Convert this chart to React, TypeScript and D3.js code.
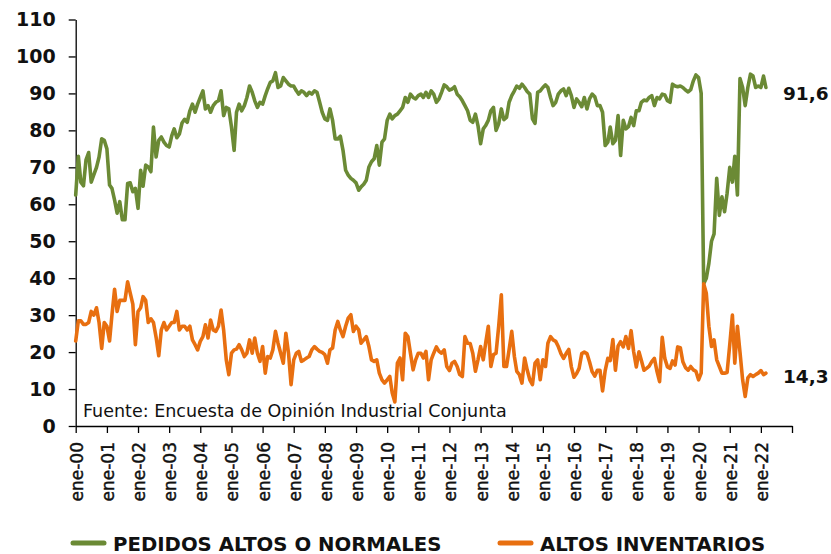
import React, { useEffect, useRef } from "react";
import * as d3 from "d3";

// monthly series, ene-00 .. mar-22 (percent of firms)
const pedidos = [
  62.5, 73, 66, 65, 72, 74, 66, 68, 70, 72.8, 77.7, 77.3, 75, 65.2, 64.3, 61.1, 57.6, 60.7, 55.8, 55.8,
  65.6, 65.8, 63.4, 64.3, 58.9, 69.2, 64.9, 70.6, 70.1, 68.8, 80.9, 72.8, 77.3, 78.2, 76.8, 75.9, 75.5, 78.6,
  80.4, 78, 79, 82, 83,
  82.2, 85.3, 87.1, 84.9, 87.1, 88.9, 90.7, 85.8, 86.7, 84.9, 86.7, 87.6, 88, 90.7, 84, 86.2, 85.8, 80.9,
  74.6, 84.9, 87.1, 85.3, 86.7, 88.9, 92, 90.3, 88, 86.2, 87.6, 87.1, 89.4, 91.2, 93, 93.4, 95.6, 91.6, 92,
  94.3, 93.4, 92.5, 92, 92, 90.7, 89.8, 90.7,
  90.3, 89.4, 90.3, 89.8, 90.7, 90.3, 87.6, 84.9, 83.1, 82.7, 85.8, 82.7, 77.7, 77.7, 78.4, 74.6, 69.2, 67.9,
  67, 66.5, 65.8, 63.8, 64.7, 65.4, 66.5, 70.1, 71.5, 72.3, 75.9, 70.6, 76.8, 77.7, 82.7, 84.4, 83.1, 84,
  84.4, 85.3, 86.2, 88.9, 87.6, 89.8, 88.9, 88.5, 89.4, 89.8,
  88.9,
  90.3, 88.9, 90.7, 89.8, 87.6, 88.5, 90.3, 92.3, 91.8, 90.9, 91.2, 91.8, 89.8, 89.1, 88, 86.7, 85.3, 82.7,
  82.2, 84.4, 81.3, 76.4, 80.4, 81.3, 82.7, 85.3, 86.2, 80, 81.8, 85.8, 82.9, 83.5, 87.6, 89.4, 90.7, 92,
  91.4, 92.5, 91.6, 90.5, 89.8, 83.1, 81.9, 90.3, 90.7, 91.6,
  92.3, 91.6, 88.9, 86.7, 87.6, 89.8, 90.7, 91.2, 89.4, 91.4, 89.4, 86.2, 88.5, 87.6, 86.4, 88.9, 85.8, 88.5,
  89.8, 89.1, 86.7, 86.7, 84.9, 75.9, 76.8, 80.9, 76.4, 77.3, 84, 73.2, 82.7, 80.4, 81, 83.5, 81.3, 85.3,
  85.3, 87.6, 88.2, 88, 88.9, 89.4, 86.7, 88.9, 88.5, 89.8,
  89.6, 88, 87.6, 92.5, 92, 91.8, 92, 91.6, 90.9, 90.4,
  91, 93.4, 95, 94.3, 90, 38.5, 40, 44, 50, 52, 67, 57, 62, 58, 63, 70, 66, 73, 62.5, 94, 91.6, 86.7, 91.6,
  95.2, 94.7, 91.6, 92, 91.6, 94.7, 91.6,
];

const inventarios = [
  23, 28.5, 28.5, 27.5, 27.5, 28, 31, 30, 32, 28, 21, 28, 27, 23, 30, 37, 31, 34, 34, 34, 39, 36, 33, 22, 31,
  32, 35, 34, 28, 29, 28, 24, 19, 26, 28, 26, 27, 28, 28, 31, 26, 27, 27,
  26, 27, 23.3, 22, 20.6, 22.9, 24.2, 27.4, 23.8, 28.7, 26, 25.6, 27, 31.4, 26, 17.9, 13.9, 19.7, 20.6, 20.8,
  22, 20.6, 18.8, 19.7, 23.3, 19.7, 23.8, 19.7, 17.5, 21.5, 14.3, 18.8, 18.4, 20.6, 25.6, 22.4, 19.7, 17,
  25.1, 19.7, 11.2, 17.9, 19.7, 20.2, 17.5,
  17.9, 18.4, 18.8, 20.6, 21.5, 20.8, 20.2, 19.9, 19.3, 17, 20.6, 21.1, 26, 28.3, 26, 24.2, 27, 29.2, 30.1,
  25.6, 27, 26, 22.4, 23.3, 24.2, 21.5, 17.9, 17.5, 17.9, 14.3, 12.5, 11.6, 12.5, 13.4, 9, 6.5, 17, 18.4,
  12.5, 25.1, 24.2, 19.7, 15.2, 17.9, 19.7, 19.7,
  18.4,
  20.2, 12.5, 17.9, 19.7, 21.4, 20.2, 19.7, 20.6, 16.1, 15, 17, 17.5, 16.1, 13.9, 13.4, 24.2, 22.4, 22.3,
  19.7, 14.8, 17.9, 21.5, 17.9, 22.4, 27, 16.1, 19.3, 19.7, 27, 35.5, 16.1, 16.1, 20.6, 25.6, 18.8, 14.8,
  13.9, 11.6, 18.4, 15.2, 12.5, 11.2, 17, 17.9, 12.5, 17.9,
  16.1, 22.4, 24.2, 23.3, 22.9, 21.5,
  19.6, 18.3, 19.6, 20.7, 16, 13.2, 14.2, 15.6, 19.6, 20, 19.6, 17.4, 14.7, 13.5, 15.1, 15.1, 9.5, 15, 18.3,
  17.7, 23.4, 15.1, 21.6, 22.8, 21.4, 24.2, 21, 25.8, 20.1, 16, 20.1, 17.8, 15.1, 15.6, 16.2, 17.4, 18.3,
  14.7, 12, 24, 18.3, 16, 15.6, 17.6, 16.5, 21.4, 21.2, 17.4, 15.8, 15.1,
  16.1, 15.2, 14.8, 12.5, 14.3, 38.5, 35.9, 27, 21.5, 23.3, 17.9, 16.1, 14.3, 14.3, 14.5, 22, 30, 17, 27, 20,
  12.5, 8, 13, 13.9, 13.4, 13.9, 14.3, 15, 13.9, 14.3,
];

const yTicks = [0, 10, 20, 30, 40, 50, 60, 70, 80, 90, 100, 110];

const xTickLabels = [
  "ene-00", "ene-01", "ene-02", "ene-03", "ene-04", "ene-05", "ene-06", "ene-07", "ene-08", "ene-09",
  "ene-10", "ene-11", "ene-12", "ene-13", "ene-14", "ene-15", "ene-16", "ene-17", "ene-18", "ene-19",
  "ene-20", "ene-21", "ene-22", "",
];

const seriesNames = ["PEDIDOS ALTOS O NORMALES", "ALTOS INVENTARIOS"];
const endLabels = ["91,6", "14,3"];
const source = "Fuente: Encuesta de Opinión Industrial Conjunta";

const GREEN = "#6b8a35";
const ORANGE = "#e86f10";
const FONT = "'DejaVu Sans', sans-serif";

function App() {
  const svgRef = useRef<SVGSVGElement>(null);

  useEffect(() => {
    const svg = d3.select(svgRef.current);
    svg.selectAll("*").remove();

    const left = 75.7, right = 792, top = 19.5, bottom = 426;

    const start = new Date(2000, 0, 1);
    const dates = pedidos.map((_, i) => d3.timeMonth.offset(start, i));

    const xScale = d3.scaleTime()
      .domain([start, new Date(2023, 0, 1)])
      .range([left, right]);

    const yScale = d3.scaleLinear()
      .domain([0, 110])
      .range([bottom, top]);

    // y axis
    const yAxis = svg.append("g")
      .attr("transform", `translate(${left}, 0)`)
      .call(d3.axisLeft(yScale).tickValues(yTicks).tickSize(7).tickSizeOuter(0).tickPadding(13));
    yAxis.select(".domain").attr("stroke", "#000").attr("stroke-width", 1.3);
    yAxis.selectAll("line").attr("stroke", "#000").attr("stroke-width", 1.3);
    yAxis.selectAll("text")
      .attr("font-family", FONT)
      .attr("font-weight", "bold")
      .attr("font-size", "19px")
      .attr("fill", "#111");

    // x axis
    const years = d3.timeYear.range(start, new Date(2023, 0, 2));
    const xAxis = svg.append("g")
      .attr("transform", `translate(0, ${bottom})`)
      .call(d3.axisBottom(xScale)
        .tickValues(years)
        .tickSize(7)
        .tickSizeOuter(0)
        .tickFormat((_, i) => xTickLabels[i]));
    xAxis.select(".domain").attr("stroke", "#000").attr("stroke-width", 1.3);
    xAxis.selectAll("line").attr("stroke", "#000").attr("stroke-width", 1.3);
    xAxis.selectAll("text")
      .attr("font-family", FONT)
      .attr("font-size", "17px")
      .attr("fill", "#111")
      .attr("stroke", "#111")
      .attr("stroke-width", 0.4)
      .attr("text-anchor", "end")
      .attr("transform", "rotate(-90)")
      .attr("x", -16)
      .attr("y", 6.5)
      .attr("dy", 0);

    // source note
    svg.append("text")
      .attr("x", 83)
      .attr("y", 417)
      .attr("font-family", FONT)
      .attr("font-size", "17.5px")
      .attr("fill", "#111")
      .text(source);

    const lineGenerator = d3.line<number>()
      .x((d, i) => xScale(dates[i]))
      .y(d => yScale(d));

    const series = [pedidos, inventarios];
    const colors = [GREEN, ORANGE];

    series.forEach((values, k) => {
      svg.append("path").datum(values)
        .attr("d", lineGenerator)
        .attr("fill", "none")
        .attr("stroke", colors[k])
        .attr("stroke-width", 3.6)
        .attr("stroke-linejoin", "round")
        .attr("stroke-linecap", "round");
    });

    // last value labels
    const lastIndex = pedidos.length - 1;
    const labelShift = [13, 10];
    series.forEach((values, k) => {
      svg.append("text")
        .attr("x", 783)
        .attr("y", yScale(values[lastIndex]) + labelShift[k])
        .attr("font-family", FONT)
        .attr("font-weight", "bold")
        .attr("font-size", "18.5px")
        .attr("fill", "#111")
        .text(endLabels[k]);
    });

    // legend
    const legendX = [73, 500];
    seriesNames.forEach((name, k) => {
      const g = svg.append("g").attr("transform", `translate(${legendX[k]}, 543)`);
      g.append("line")
        .attr("x1", 0).attr("x2", 31)
        .attr("y1", 0).attr("y2", 0)
        .attr("stroke", colors[k])
        .attr("stroke-width", 5)
        .attr("stroke-linecap", "round");
      g.append("text")
        .attr("x", 40)
        .attr("y", 7.5)
        .attr("font-family", FONT)
        .attr("font-weight", "bold")
        .attr("font-size", "19.7px")
        .attr("fill", "#111")
        .text(name);
    });
  }, []);

  return (
    <svg
      ref={svgRef}
      width={831}
      height={554}
      style={{ position: "absolute", left: 0, top: 0, background: "#fff" }}
    />
  );
}

export default App;
